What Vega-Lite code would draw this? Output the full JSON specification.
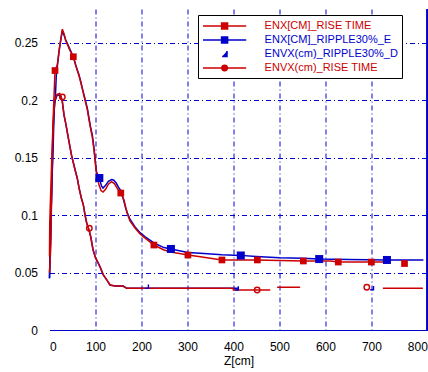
{
  "$schema": "https://vega.github.io/schema/vega-lite/v6.json",
  "width": 378,
  "height": 321,
  "autosize": "none",
  "padding": {"left": 49.5, "top": 9, "right": 0.5, "bottom": 42},
  "background": "white",
  "config": {
    "view": {"stroke": null},
    "font": "Liberation Sans",
    "axis": {
      "labelFont": "Liberation Sans",
      "labelFontSize": 12,
      "labelColor": "black",
      "titleFont": "Liberation Sans",
      "titleFontSize": 12,
      "titleFontWeight": "normal",
      "titleColor": "black",
      "ticks": false,
      "gridColor": "#0000cc",
      "gridDash": [5, 3, 1, 3],
      "gridWidth": 1,
      "gridOpacity": 1
    }
  },
  "datasets": {
    "curves": [
      {"z": 0, "v": 0.064, "s": "ENX[CM]_RISE TIME"},
      {"z": 0.5, "v": 0.093, "s": "ENX[CM]_RISE TIME"},
      {"z": 5, "v": 0.15, "s": "ENX[CM]_RISE TIME"},
      {"z": 9, "v": 0.195, "s": "ENX[CM]_RISE TIME"},
      {"z": 12, "v": 0.226, "s": "ENX[CM]_RISE TIME"},
      {"z": 17, "v": 0.231, "s": "ENX[CM]_RISE TIME"},
      {"z": 20.7, "v": 0.243, "s": "ENX[CM]_RISE TIME"},
      {"z": 22.9, "v": 0.249, "s": "ENX[CM]_RISE TIME"},
      {"z": 25.7, "v": 0.256, "s": "ENX[CM]_RISE TIME"},
      {"z": 27.9, "v": 0.262, "s": "ENX[CM]_RISE TIME"},
      {"z": 31.6, "v": 0.258, "s": "ENX[CM]_RISE TIME"},
      {"z": 35.3, "v": 0.252, "s": "ENX[CM]_RISE TIME"},
      {"z": 38.7, "v": 0.249, "s": "ENX[CM]_RISE TIME"},
      {"z": 45, "v": 0.243, "s": "ENX[CM]_RISE TIME"},
      {"z": 51.8, "v": 0.238, "s": "ENX[CM]_RISE TIME"},
      {"z": 57, "v": 0.2305, "s": "ENX[CM]_RISE TIME"},
      {"z": 60.5, "v": 0.226, "s": "ENX[CM]_RISE TIME"},
      {"z": 64.2, "v": 0.2215, "s": "ENX[CM]_RISE TIME"},
      {"z": 67.9, "v": 0.216, "s": "ENX[CM]_RISE TIME"},
      {"z": 71.4, "v": 0.21, "s": "ENX[CM]_RISE TIME"},
      {"z": 75, "v": 0.204, "s": "ENX[CM]_RISE TIME"},
      {"z": 82.3, "v": 0.192, "s": "ENX[CM]_RISE TIME"},
      {"z": 86, "v": 0.183, "s": "ENX[CM]_RISE TIME"},
      {"z": 89.7, "v": 0.175, "s": "ENX[CM]_RISE TIME"},
      {"z": 93.1, "v": 0.168, "s": "ENX[CM]_RISE TIME"},
      {"z": 96.8, "v": 0.157, "s": "ENX[CM]_RISE TIME"},
      {"z": 100.5, "v": 0.142, "s": "ENX[CM]_RISE TIME"},
      {"z": 103, "v": 0.134, "s": "ENX[CM]_RISE TIME"},
      {"z": 108, "v": 0.126, "s": "ENX[CM]_RISE TIME"},
      {"z": 112, "v": 0.1215, "s": "ENX[CM]_RISE TIME"},
      {"z": 116.4, "v": 0.1202, "s": "ENX[CM]_RISE TIME"},
      {"z": 122, "v": 0.1225, "s": "ENX[CM]_RISE TIME"},
      {"z": 128, "v": 0.127, "s": "ENX[CM]_RISE TIME"},
      {"z": 135, "v": 0.1292, "s": "ENX[CM]_RISE TIME"},
      {"z": 141, "v": 0.1275, "s": "ENX[CM]_RISE TIME"},
      {"z": 148, "v": 0.123, "s": "ENX[CM]_RISE TIME"},
      {"z": 155, "v": 0.1193, "s": "ENX[CM]_RISE TIME"},
      {"z": 162, "v": 0.1132, "s": "ENX[CM]_RISE TIME"},
      {"z": 168.7, "v": 0.1019, "s": "ENX[CM]_RISE TIME"},
      {"z": 175, "v": 0.095, "s": "ENX[CM]_RISE TIME"},
      {"z": 186, "v": 0.0889, "s": "ENX[CM]_RISE TIME"},
      {"z": 197, "v": 0.0836, "s": "ENX[CM]_RISE TIME"},
      {"z": 208, "v": 0.0801, "s": "ENX[CM]_RISE TIME"},
      {"z": 227, "v": 0.074, "s": "ENX[CM]_RISE TIME"},
      {"z": 249, "v": 0.0697, "s": "ENX[CM]_RISE TIME"},
      {"z": 264, "v": 0.068, "s": "ENX[CM]_RISE TIME"},
      {"z": 301, "v": 0.0653, "s": "ENX[CM]_RISE TIME"},
      {"z": 328, "v": 0.0638, "s": "ENX[CM]_RISE TIME"},
      {"z": 375, "v": 0.061, "s": "ENX[CM]_RISE TIME"},
      {"z": 452, "v": 0.061, "s": "ENX[CM]_RISE TIME"},
      {"z": 500, "v": 0.0605, "s": "ENX[CM]_RISE TIME"},
      {"z": 552, "v": 0.0601, "s": "ENX[CM]_RISE TIME"},
      {"z": 611, "v": 0.0601, "s": "ENX[CM]_RISE TIME"},
      {"z": 628, "v": 0.0592, "s": "ENX[CM]_RISE TIME"},
      {"z": 700, "v": 0.0592, "s": "ENX[CM]_RISE TIME"},
      {"z": 727, "v": 0.0592, "s": "ENX[CM]_RISE TIME"},

      {"z": 0, "v": 0.045, "s": "ENX[CM]_RIPPLE30%_E"},
      {"z": 1, "v": 0.063, "s": "ENX[CM]_RIPPLE30%_E"},
      {"z": 5.4, "v": 0.13, "s": "ENX[CM]_RIPPLE30%_E"},
      {"z": 8, "v": 0.16, "s": "ENX[CM]_RIPPLE30%_E"},
      {"z": 10, "v": 0.19, "s": "ENX[CM]_RIPPLE30%_E"},
      {"z": 13, "v": 0.205, "s": "ENX[CM]_RIPPLE30%_E"},
      {"z": 15.5, "v": 0.228, "s": "ENX[CM]_RIPPLE30%_E"},
      {"z": 17, "v": 0.2294, "s": "ENX[CM]_RIPPLE30%_E"},
      {"z": 20.7, "v": 0.2424, "s": "ENX[CM]_RIPPLE30%_E"},
      {"z": 22.9, "v": 0.2483, "s": "ENX[CM]_RIPPLE30%_E"},
      {"z": 25.7, "v": 0.2555, "s": "ENX[CM]_RIPPLE30%_E"},
      {"z": 27.9, "v": 0.26, "s": "ENX[CM]_RIPPLE30%_E"},
      {"z": 31.6, "v": 0.257, "s": "ENX[CM]_RIPPLE30%_E"},
      {"z": 35.3, "v": 0.2526, "s": "ENX[CM]_RIPPLE30%_E"},
      {"z": 38.7, "v": 0.2497, "s": "ENX[CM]_RIPPLE30%_E"},
      {"z": 45, "v": 0.244, "s": "ENX[CM]_RIPPLE30%_E"},
      {"z": 51.8, "v": 0.238, "s": "ENX[CM]_RIPPLE30%_E"},
      {"z": 57, "v": 0.2308, "s": "ENX[CM]_RIPPLE30%_E"},
      {"z": 60.5, "v": 0.2265, "s": "ENX[CM]_RIPPLE30%_E"},
      {"z": 64.2, "v": 0.2221, "s": "ENX[CM]_RIPPLE30%_E"},
      {"z": 67.9, "v": 0.2163, "s": "ENX[CM]_RIPPLE30%_E"},
      {"z": 71.4, "v": 0.2105, "s": "ENX[CM]_RIPPLE30%_E"},
      {"z": 75, "v": 0.2047, "s": "ENX[CM]_RIPPLE30%_E"},
      {"z": 82.3, "v": 0.1931, "s": "ENX[CM]_RIPPLE30%_E"},
      {"z": 86, "v": 0.1844, "s": "ENX[CM]_RIPPLE30%_E"},
      {"z": 89.7, "v": 0.1757, "s": "ENX[CM]_RIPPLE30%_E"},
      {"z": 93.1, "v": 0.1699, "s": "ENX[CM]_RIPPLE30%_E"},
      {"z": 96.8, "v": 0.1583, "s": "ENX[CM]_RIPPLE30%_E"},
      {"z": 100.5, "v": 0.1437, "s": "ENX[CM]_RIPPLE30%_E"},
      {"z": 102.3, "v": 0.1376, "s": "ENX[CM]_RIPPLE30%_E"},
      {"z": 108.4, "v": 0.1324, "s": "ENX[CM]_RIPPLE30%_E"},
      {"z": 113, "v": 0.1255, "s": "ENX[CM]_RIPPLE30%_E"},
      {"z": 116.4, "v": 0.1237, "s": "ENX[CM]_RIPPLE30%_E"},
      {"z": 122, "v": 0.126, "s": "ENX[CM]_RIPPLE30%_E"},
      {"z": 128, "v": 0.1295, "s": "ENX[CM]_RIPPLE30%_E"},
      {"z": 135, "v": 0.131, "s": "ENX[CM]_RIPPLE30%_E"},
      {"z": 139.3, "v": 0.1307, "s": "ENX[CM]_RIPPLE30%_E"},
      {"z": 145, "v": 0.128, "s": "ENX[CM]_RIPPLE30%_E"},
      {"z": 150, "v": 0.1245, "s": "ENX[CM]_RIPPLE30%_E"},
      {"z": 155, "v": 0.1215, "s": "ENX[CM]_RIPPLE30%_E"},
      {"z": 160, "v": 0.115, "s": "ENX[CM]_RIPPLE30%_E"},
      {"z": 165, "v": 0.107, "s": "ENX[CM]_RIPPLE30%_E"},
      {"z": 168.7, "v": 0.1025, "s": "ENX[CM]_RIPPLE30%_E"},
      {"z": 175, "v": 0.0965, "s": "ENX[CM]_RIPPLE30%_E"},
      {"z": 186, "v": 0.0898, "s": "ENX[CM]_RIPPLE30%_E"},
      {"z": 197, "v": 0.0848, "s": "ENX[CM]_RIPPLE30%_E"},
      {"z": 208, "v": 0.0812, "s": "ENX[CM]_RIPPLE30%_E"},
      {"z": 227, "v": 0.0758, "s": "ENX[CM]_RIPPLE30%_E"},
      {"z": 249, "v": 0.0718, "s": "ENX[CM]_RIPPLE30%_E"},
      {"z": 264, "v": 0.0706, "s": "ENX[CM]_RIPPLE30%_E"},
      {"z": 301, "v": 0.0675, "s": "ENX[CM]_RIPPLE30%_E"},
      {"z": 328, "v": 0.0668, "s": "ENX[CM]_RIPPLE30%_E"},
      {"z": 375, "v": 0.0655, "s": "ENX[CM]_RIPPLE30%_E"},
      {"z": 415, "v": 0.065, "s": "ENX[CM]_RIPPLE30%_E"},
      {"z": 450, "v": 0.064, "s": "ENX[CM]_RIPPLE30%_E"},
      {"z": 500, "v": 0.063, "s": "ENX[CM]_RIPPLE30%_E"},
      {"z": 550, "v": 0.0625, "s": "ENX[CM]_RIPPLE30%_E"},
      {"z": 586, "v": 0.0618, "s": "ENX[CM]_RIPPLE30%_E"},
      {"z": 650, "v": 0.0613, "s": "ENX[CM]_RIPPLE30%_E"},
      {"z": 734, "v": 0.061, "s": "ENX[CM]_RIPPLE30%_E"},
      {"z": 813, "v": 0.061, "s": "ENX[CM]_RIPPLE30%_E"},

      {"z": 0, "v": 0.045, "s": "ENVX(cm)_RIPPLE30%_D"},
      {"z": 1, "v": 0.063, "s": "ENVX(cm)_RIPPLE30%_D"},
      {"z": 5.4, "v": 0.13, "s": "ENVX(cm)_RIPPLE30%_D"},
      {"z": 8, "v": 0.175, "s": "ENVX(cm)_RIPPLE30%_D"},
      {"z": 11, "v": 0.198, "s": "ENVX(cm)_RIPPLE30%_D"},
      {"z": 16, "v": 0.204, "s": "ENVX(cm)_RIPPLE30%_D"},
      {"z": 22, "v": 0.205, "s": "ENVX(cm)_RIPPLE30%_D"},
      {"z": 25, "v": 0.203, "s": "ENVX(cm)_RIPPLE30%_D"},
      {"z": 27.9, "v": 0.199, "s": "ENVX(cm)_RIPPLE30%_D"},
      {"z": 31.6, "v": 0.187, "s": "ENVX(cm)_RIPPLE30%_D"},
      {"z": 35.3, "v": 0.18, "s": "ENVX(cm)_RIPPLE30%_D"},
      {"z": 38.7, "v": 0.172, "s": "ENVX(cm)_RIPPLE30%_D"},
      {"z": 42.4, "v": 0.164, "s": "ENVX(cm)_RIPPLE30%_D"},
      {"z": 48, "v": 0.152, "s": "ENVX(cm)_RIPPLE30%_D"},
      {"z": 55.5, "v": 0.14, "s": "ENVX(cm)_RIPPLE30%_D"},
      {"z": 60.5, "v": 0.132, "s": "ENVX(cm)_RIPPLE30%_D"},
      {"z": 64.2, "v": 0.124, "s": "ENVX(cm)_RIPPLE30%_D"},
      {"z": 69.2, "v": 0.115, "s": "ENVX(cm)_RIPPLE30%_D"},
      {"z": 73.6, "v": 0.109, "s": "ENVX(cm)_RIPPLE30%_D"},
      {"z": 77.3, "v": 0.1, "s": "ENVX(cm)_RIPPLE30%_D"},
      {"z": 81, "v": 0.093, "s": "ENVX(cm)_RIPPLE30%_D"},
      {"z": 86, "v": 0.087, "s": "ENVX(cm)_RIPPLE30%_D"},
      {"z": 89.7, "v": 0.081, "s": "ENVX(cm)_RIPPLE30%_D"},
      {"z": 94.7, "v": 0.07, "s": "ENVX(cm)_RIPPLE30%_D"},
      {"z": 100, "v": 0.063, "s": "ENVX(cm)_RIPPLE30%_D"},
      {"z": 110, "v": 0.055, "s": "ENVX(cm)_RIPPLE30%_D"},
      {"z": 117, "v": 0.048, "s": "ENVX(cm)_RIPPLE30%_D"},
      {"z": 124.5, "v": 0.0436, "s": "ENVX(cm)_RIPPLE30%_D"},
      {"z": 131.7, "v": 0.0392, "s": "ENVX(cm)_RIPPLE30%_D"},
      {"z": 142.5, "v": 0.0383, "s": "ENVX(cm)_RIPPLE30%_D"},
      {"z": 160, "v": 0.0383, "s": "ENVX(cm)_RIPPLE30%_D"},
      {"z": 168, "v": 0.0363, "s": "ENVX(cm)_RIPPLE30%_D"},
      {"z": 250, "v": 0.0363, "s": "ENVX(cm)_RIPPLE30%_D"},
      {"z": 410, "v": 0.0363, "s": "ENVX(cm)_RIPPLE30%_D"},

      {"z": 0, "v": 0.05, "s": "ENVX(cm)_RISE TIME"},
      {"z": 3, "v": 0.074, "s": "ENVX(cm)_RISE TIME"},
      {"z": 5.4, "v": 0.144, "s": "ENVX(cm)_RISE TIME"},
      {"z": 8, "v": 0.18, "s": "ENVX(cm)_RISE TIME"},
      {"z": 11, "v": 0.2, "s": "ENVX(cm)_RISE TIME"},
      {"z": 16, "v": 0.205, "s": "ENVX(cm)_RISE TIME"},
      {"z": 22, "v": 0.206, "s": "ENVX(cm)_RISE TIME"},
      {"z": 25, "v": 0.204, "s": "ENVX(cm)_RISE TIME"},
      {"z": 27.9, "v": 0.1989, "s": "ENVX(cm)_RISE TIME"},
      {"z": 31.6, "v": 0.1873, "s": "ENVX(cm)_RISE TIME"},
      {"z": 35.3, "v": 0.18, "s": "ENVX(cm)_RISE TIME"},
      {"z": 38.7, "v": 0.1727, "s": "ENVX(cm)_RISE TIME"},
      {"z": 42.4, "v": 0.164, "s": "ENVX(cm)_RISE TIME"},
      {"z": 48, "v": 0.152, "s": "ENVX(cm)_RISE TIME"},
      {"z": 55.5, "v": 0.1394, "s": "ENVX(cm)_RISE TIME"},
      {"z": 60.5, "v": 0.1321, "s": "ENVX(cm)_RISE TIME"},
      {"z": 64.2, "v": 0.1237, "s": "ENVX(cm)_RISE TIME"},
      {"z": 69.2, "v": 0.115, "s": "ENVX(cm)_RISE TIME"},
      {"z": 73.6, "v": 0.1089, "s": "ENVX(cm)_RISE TIME"},
      {"z": 77.3, "v": 0.1002, "s": "ENVX(cm)_RISE TIME"},
      {"z": 81, "v": 0.0929, "s": "ENVX(cm)_RISE TIME"},
      {"z": 86, "v": 0.0871, "s": "ENVX(cm)_RISE TIME"},
      {"z": 89.7, "v": 0.0813, "s": "ENVX(cm)_RISE TIME"},
      {"z": 94.7, "v": 0.0697, "s": "ENVX(cm)_RISE TIME"},
      {"z": 100, "v": 0.063, "s": "ENVX(cm)_RISE TIME"},
      {"z": 110, "v": 0.0549, "s": "ENVX(cm)_RISE TIME"},
      {"z": 117, "v": 0.0479, "s": "ENVX(cm)_RISE TIME"},
      {"z": 124.5, "v": 0.0436, "s": "ENVX(cm)_RISE TIME"},
      {"z": 131.7, "v": 0.0392, "s": "ENVX(cm)_RISE TIME"},
      {"z": 142.5, "v": 0.0383, "s": "ENVX(cm)_RISE TIME"},
      {"z": 160, "v": 0.0383, "s": "ENVX(cm)_RISE TIME"},
      {"z": 168, "v": 0.0363, "s": "ENVX(cm)_RISE TIME"},
      {"z": 250, "v": 0.0363, "s": "ENVX(cm)_RISE TIME"},
      {"z": 327, "v": 0.0363, "s": "ENVX(cm)_RISE TIME"},
      {"z": 399, "v": 0.0363, "s": "ENVX(cm)_RISE TIME"},
      {"z": 400, "v": 0.0348, "s": "ENVX(cm)_RISE TIME"},
      {"z": 480, "v": 0.0348, "s": "ENVX(cm)_RISE TIME"},
      {"z": 487, "v": null, "s": "ENVX(cm)_RISE TIME"},
      {"z": 495, "v": 0.0372, "s": "ENVX(cm)_RISE TIME"},
      {"z": 545, "v": 0.0372, "s": "ENVX(cm)_RISE TIME"},
      {"z": 630, "v": null, "s": "ENVX(cm)_RISE TIME"},
      {"z": 725, "v": 0.0363, "s": "ENVX(cm)_RISE TIME"},
      {"z": 812, "v": 0.0363, "s": "ENVX(cm)_RISE TIME"}
    ],
    "markers": [
      {"z": 12, "v": 0.226, "s": "ENX[CM]_RISE TIME"},
      {"z": 51.8, "v": 0.238, "s": "ENX[CM]_RISE TIME"},
      {"z": 155, "v": 0.1193, "s": "ENX[CM]_RISE TIME"},
      {"z": 227, "v": 0.074, "s": "ENX[CM]_RISE TIME"},
      {"z": 301, "v": 0.0653, "s": "ENX[CM]_RISE TIME"},
      {"z": 375, "v": 0.061, "s": "ENX[CM]_RISE TIME"},
      {"z": 452, "v": 0.061, "s": "ENX[CM]_RISE TIME"},
      {"z": 552, "v": 0.0601, "s": "ENX[CM]_RISE TIME"},
      {"z": 628, "v": 0.0592, "s": "ENX[CM]_RISE TIME"},
      {"z": 700, "v": 0.0592, "s": "ENX[CM]_RISE TIME"},
      {"z": 772, "v": 0.0579, "s": "ENX[CM]_RISE TIME"},
      {"z": 108.4, "v": 0.1324, "s": "ENX[CM]_RIPPLE30%_E"},
      {"z": 264, "v": 0.0706, "s": "ENX[CM]_RIPPLE30%_E"},
      {"z": 416, "v": 0.0649, "s": "ENX[CM]_RIPPLE30%_E"},
      {"z": 586.5, "v": 0.0618, "s": "ENX[CM]_RIPPLE30%_E"},
      {"z": 733.8, "v": 0.061, "s": "ENX[CM]_RIPPLE30%_E"},
      {"z": 211.5, "v": 0.0377, "s": "ENVX(cm)_RIPPLE30%_D"},
      {"z": 407, "v": 0.0363, "s": "ENVX(cm)_RIPPLE30%_D"},
      {"z": 701, "v": 0.0365, "s": "ENVX(cm)_RIPPLE30%_D"},
      {"z": 27.9, "v": 0.203, "s": "ENVX(cm)_RISE TIME"},
      {"z": 86.6, "v": 0.0886, "s": "ENVX(cm)_RISE TIME"},
      {"z": 451.6, "v": 0.0348, "s": "ENVX(cm)_RISE TIME"},
      {"z": 690, "v": 0.0372, "s": "ENVX(cm)_RISE TIME"}
    ]
  },
  "encoding": {
    "x": {
      "field": "z",
      "type": "quantitative",
      "scale": {"domain": [0, 822], "nice": false, "zero": false},
      "axis": {
        "values": [0, 100, 200, 300, 400, 500, 600, 700, 800],
        "format": "d",
        "title": "Z[cm]",
        "titlePadding": 3,
        "labelPadding": 11,
        "domainColor": "#0000cc",
        "domainWidth": 1.2,
        "gridOpacity": {"condition": {"test": "datum.value == 0 || datum.value == 800", "value": 0}, "value": 1}
      }
    },
    "y": {
      "field": "v",
      "type": "quantitative",
      "scale": {"domain": [0, 0.2796], "nice": false},
      "axis": {
        "values": [0, 0.05, 0.1, 0.15, 0.2, 0.25],
        "format": "~g",
        "title": null,
        "domain": false,
        "labelPadding": 12,
        "gridOpacity": {"condition": {"test": "datum.value == 0", "value": 0}, "value": 1}
      }
    },
    "color": {
      "field": "s",
      "type": "nominal",
      "scale": {
        "domain": ["ENX[CM]_RISE TIME", "ENX[CM]_RIPPLE30%_E", "ENVX(cm)_RIPPLE30%_D", "ENVX(cm)_RISE TIME"],
        "range": ["#cc0000", "#0000cc", "#0000cc", "#cc0000"]
      },
      "legend": {
        "title": null,
        "orient": "none",
        "legendX": 148.5,
        "legendY": 6,
        "padding": 4,
        "fillColor": "white",
        "strokeColor": "black",
        "symbolSize": 144,
        "symbolOffset": 15.6,
        "labelOffset": 33,
        "rowPadding": 1,
        "labelFont": "Liberation Sans",
        "labelFontSize": 11,
        "labelLimit": 220,
        "encode": {
          "symbols": {
            "update": {
              "shape": {"signal": "indexof(datum.value, 'ENX[') === 0 ? 'M-3.6,0H3.6M-0.5,-0.5H0.5V0.5H-0.5Z' : indexof(datum.value, 'RIPPLE') > 0 ? 'M0.4,-0.5V0.4H-0.4' : 'M-3.6,0H-0.45M0.45,0H3.6M-0.45,0A0.45,0.45,0,1,1,0.45,0A0.45,0.45,0,1,1,-0.45,0Z'"},
              "fill": {"signal": "indexof(datum.value, 'ENX[') === 0 ? scale('color', datum.value) : indexof(datum.value, 'RIPPLE') > 0 ? 'transparent' : 'white'"},
              "stroke": {"signal": "scale('color', datum.value)"}
            }
          },
          "labels": {
            "update": {"fill": {"signal": "scale('color', datum.value)"}}
          }
        }
      }
    }
  },
  "layer": [
    {
      "data": {"name": "curves"},
      "transform": [{"filter": "indexof(datum.s, 'RIPPLE') > 0"}],
      "mark": {"type": "line", "strokeWidth": 1.5, "invalid": "break-paths-show-domains"}
    },
    {
      "data": {"name": "curves"},
      "transform": [{"filter": "indexof(datum.s, 'RISE') > 0"}],
      "mark": {"type": "line", "strokeWidth": 1.5, "invalid": "break-paths-show-domains"}
    },
    {
      "data": {"name": "markers"},
      "transform": [{"filter": "datum.s === 'ENX[CM]_RISE TIME'"}],
      "mark": {"type": "point", "shape": "square", "filled": true, "size": 45, "opacity": 1}
    },
    {
      "data": {"name": "markers"},
      "transform": [{"filter": "datum.s === 'ENX[CM]_RIPPLE30%_E'"}],
      "mark": {"type": "point", "shape": "square", "filled": true, "size": 64, "opacity": 1}
    },
    {
      "data": {"name": "markers"},
      "transform": [{"filter": "datum.s === 'ENVX(cm)_RIPPLE30%_D'"}],
      "mark": {"type": "point", "shape": "M0.6,-0.8V0.6H-0.6", "filled": false, "size": 30, "strokeWidth": 1.4, "opacity": 1}
    },
    {
      "data": {"name": "markers"},
      "transform": [{"filter": "datum.s === 'ENVX(cm)_RISE TIME'"}],
      "mark": {"type": "point", "shape": "circle", "filled": false, "size": 30, "strokeWidth": 1.4, "opacity": 1}
    },
    {
      "data": {"name": "markers"},
      "mark": {"type": "rule", "color": "#0000cc", "strokeWidth": 1.2},
      "encoding": {"x": {"datum": 822}, "y": null, "color": null}
    }
  ]
}
